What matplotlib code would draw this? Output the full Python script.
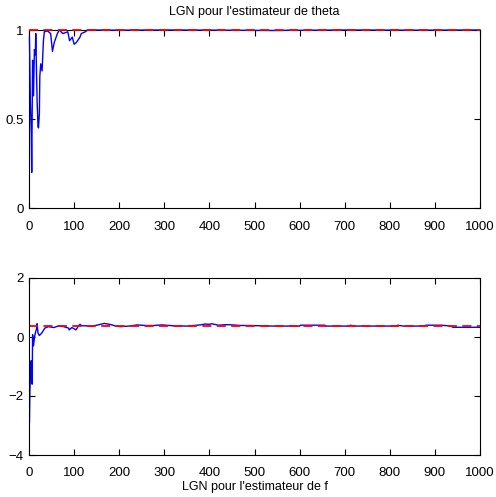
import matplotlib
matplotlib.use('Agg')
import matplotlib.pyplot as plt

plt.rcParams['font.family'] = ['Liberation Sans', 'DejaVu Sans']

# theta estimator (top)
theta_n = [1, 3, 5, 6, 8, 10, 12, 14, 15, 17, 18, 20, 21, 23, 24, 26, 29, 32, 34,
           41, 48, 52, 56, 63, 67, 75, 86, 90, 96, 100, 105, 113, 116, 125, 130,
           200, 300, 420, 560, 575, 590, 700, 850, 1000]
theta_v = [0.96, 0.60, 0.42, 0.20, 0.83, 0.63, 0.89, 0.86, 0.98, 0.72, 0.60, 0.46,
           0.45, 0.53, 0.74, 0.81, 0.77, 0.94, 0.99, 0.995, 0.98, 0.88, 0.93, 0.98,
           1.0, 0.98, 0.99, 0.94, 0.96, 0.92, 0.93, 0.96, 0.98, 0.99, 1.0,
           0.999, 1.0, 0.999, 0.997, 0.999, 0.998, 1.0, 0.999, 1.0]
theta_true = 1.0

# f estimator (bottom)
f_n = [1, 2, 4, 5, 6, 7, 8, 10, 12, 14, 17, 18, 20, 23, 28, 35, 43, 55, 66, 77, 88,
       89, 95, 100, 104, 110, 113, 117, 126, 138, 153, 167, 182, 192, 203, 222,
       240, 258, 277, 295, 320, 350, 380, 390, 400, 405, 420, 440, 450, 470, 490,
       540, 600, 602, 656, 658, 710, 713, 720, 815, 817, 830, 875, 880, 915, 935,
       940, 1000]
f_v = [-2.9, -1.8, -1.03, -0.8, -1.47, -1.6, 0.08, -0.3, -0.03, 0.13, 0.3, 0.45,
       0.13, 0.05, 0.13, 0.3, 0.35, 0.32, 0.38, 0.35, 0.3, 0.24, 0.32, 0.28,
       0.24, 0.38, 0.43, 0.38, 0.38, 0.36, 0.41, 0.46, 0.42, 0.37, 0.35, 0.37, 0.41,
       0.39, 0.39, 0.41, 0.38, 0.37, 0.41, 0.44, 0.43, 0.45, 0.40, 0.42, 0.41,
       0.39, 0.39, 0.37, 0.37, 0.40, 0.40, 0.37, 0.37, 0.40, 0.37, 0.37, 0.40,
       0.37, 0.37, 0.40, 0.40, 0.37, 0.33, 0.33]
f_true = 0.37

W, H = 496, 497
fig = plt.figure(figsize=(W / 100, H / 100), dpi=100)

def place(top, bottom):
    return [29 / W, 1 - bottom / H, (480 - 29) / W, (bottom - top) / H]

ax1 = fig.add_axes(place(30, 208))
ax2 = fig.add_axes(place(278, 455))

ax1.plot(theta_n, theta_v, color='blue', linewidth=1, clip_on=False, zorder=3)
ax1.plot([0, 1000], [theta_true, theta_true], color='red', linestyle='--',
         linewidth=1.3, dashes=(5, 3), clip_on=False, zorder=4)
ax1.set_xlim(0, 1000)
ax1.set_ylim(0, 1)
ax1.set_yticks([0, 0.5, 1])
ax1.set_yticklabels(['0', '0.5', '1'])
ax1.set_title("LGN pour l'estimateur de theta", fontsize=9, pad=11)

ax2.plot(f_n, f_v, color='blue', linewidth=1)
ax2.plot([0, 1000], [f_true, f_true], color='red', linestyle='--', linewidth=1.3, dashes=(5, 3))
ax2.set_xlim(0, 1000)
ax2.set_ylim(-4, 2)
ax2.set_yticks([-4, -2, 0, 2])
ax2.set_yticklabels(['\u22124', '\u22122', '0', '2'])
ax2.set_xlabel("LGN pour l'estimateur de f", fontsize=9, labelpad=1)

for ax in (ax1, ax2):
    ax.set_xticks(range(0, 1001, 100))
    ax.tick_params(direction='in', length=4, width=0.8, labelsize=9.5,
                   top=True, right=True)
    ax.tick_params(axis='x', pad=9)
    ax.tick_params(axis='y', pad=4)
    for s in ax.spines.values():
        s.set_linewidth(0.8)

fig.savefig('out.png', dpi=100)
